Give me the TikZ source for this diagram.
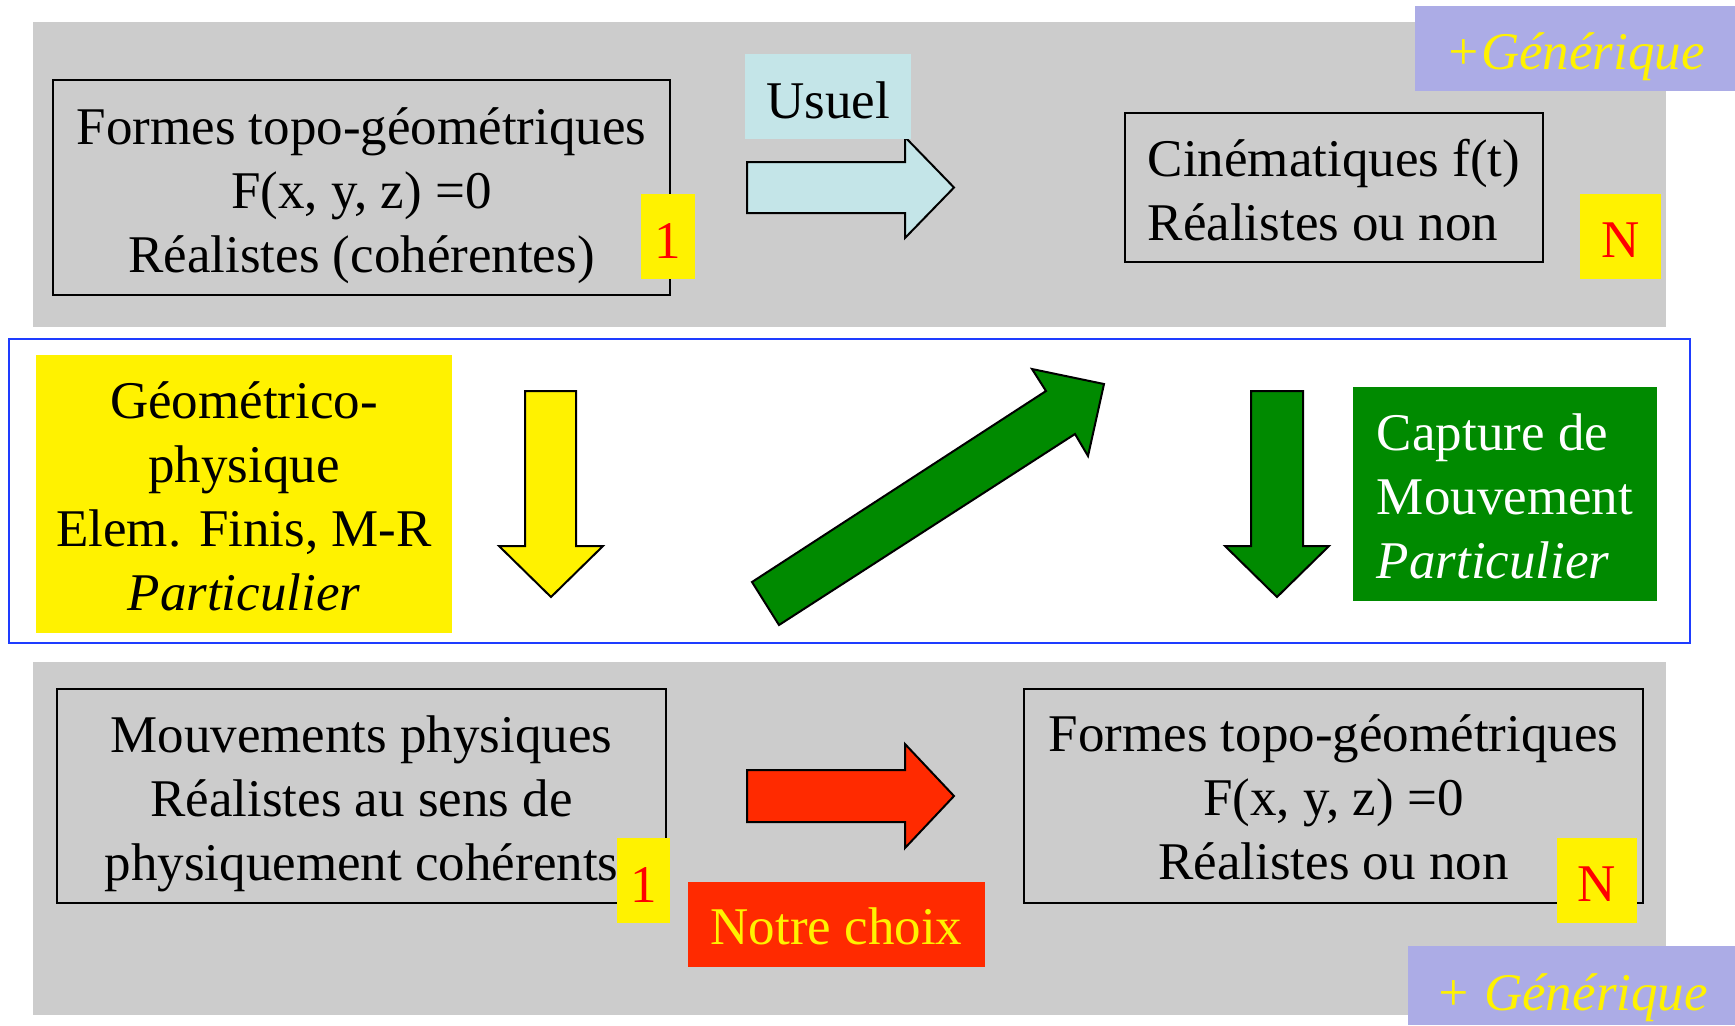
\documentclass[tikz,border=0pt]{standalone}
\usepackage{fontspec}
\setmainfont{Liberation Serif}
\definecolor{panelgray}{RGB}{204,204,204}
\definecolor{usuelcyan}{RGB}{196,229,232}
\definecolor{genlilac}{RGB}{172,172,230}
\definecolor{choixred}{RGB}{255,42,0}
\definecolor{capgreen}{RGB}{0,138,0}
\definecolor{frameblue}{RGB}{30,60,255}
\usetikzlibrary{positioning}
\tikzset{
  big/.style={font=\fontsize{26.5}{32}\selectfont},
  framebox/.style={draw=black, line width=1pt, inner sep=0pt},
  badge/.style={fill=yellow, inner sep=0pt, minimum height=42.5pt},
  flat/.style={inner sep=0pt},
  boxtext/.style={big, inner sep=0pt},
  blockarrow/.style={draw=black, line width=1pt, line join=miter},
}

\begin{document}
\begin{tikzpicture}[x=0.5pt,y=-0.5pt]
  \useasboundingbox (0,0) rectangle (1735,1025);

  \fill [panelgray] (33,22) rectangle (1666,327);
  \fill [panelgray] (33,662) rectangle (1666,1015);
  \draw [frameblue, line width=1pt] (9,339) rectangle (1690,643);

  % arrows
  \draw [blockarrow, fill=usuelcyan] (747,162) -- (905,162) -- (905,137) -- (954,187.5) -- (905,238) -- (905,213) -- (747,213) -- cycle;
  \draw [blockarrow, fill=yellow] (525,391) -- (576,391) -- (576,546) -- (603,546) -- (551,597) -- (499,546) -- (525,546) -- cycle;
  \draw [blockarrow, fill=capgreen] (752,582) -- (1046,391) -- (1032,369) -- (1104,384) -- (1088,456) -- (1075,434) -- (779,625) -- cycle;
  \draw [blockarrow, fill=capgreen] (1251,391) -- (1303,391) -- (1303,546) -- (1329,546) -- (1277,597) -- (1225,546) -- (1251,546) -- cycle;
  \draw [blockarrow, fill=choixred] (747,770) -- (905,770) -- (905,744) -- (954,796) -- (905,848) -- (905,822) -- (747,822) -- cycle;

  % top row
  \node [framebox, minimum width=308.5pt, minimum height=107.5pt] (formesA) at (361.5,187.5) {};
  \node [boxtext, align=center] (formesAtxt) at ([yshift=-3.9pt]formesA.center)
    {Formes topo-géométriques\\F(x, y, z) =0\\Réalistes (cohérentes)};
  \node [badge, minimum width=27pt] (unA) at (668,236.5) {};
  \node [boxtext, text=red] at ([yshift=-2pt]unA.center) {1};
  \node [flat, fill=usuelcyan, minimum width=83pt, minimum height=42.5pt] (usuel) at (828,96.5) {};
  \node [boxtext] at ([yshift=-1.7pt]usuel.center) {Usuel};
  \node [framebox, minimum width=209pt, minimum height=74.5pt] (cinema) at (1334,187.5) {};
  \node [boxtext, align=left] (cinematxt) at ([yshift=-1.4pt]cinema.center)
    {Cinématiques f(t)\\Réalistes ou non};
  \node [badge, minimum width=40.5pt] (enA) at (1620.5,236.5) {};
  \node [boxtext, text=red] at ([yshift=-2pt]enA.center) {N};
  \node [flat, fill=genlilac, minimum width=160pt, minimum height=42.5pt] (genA) at (1575,48.5) {};
  \node [boxtext, text=yellow] at ([yshift=-3.9pt]genA.center) {\itshape +Générique};

  % middle row
  \node [flat, fill=yellow, minimum width=208pt, minimum height=139pt] (geophys) at (244,494) {};
  \node [boxtext, align=center] (geophystxt) at ([yshift=-1.4pt]geophys.center)
    {Géométrico-\\physique\\Elem. Finis, M-R\\\itshape Particulier};
  \node [flat, fill=capgreen, minimum width=152pt, minimum height=107pt] (capture) at (1505,494) {};
  \node [boxtext, text=white, align=left] (capturetxt) at ([yshift=-1.1pt]capture.center)
    {Capture de\\Mouvement\\\itshape Particulier};

  % bottom row
  \node [framebox, minimum width=304.5pt, minimum height=107pt] (mouvts) at (361.5,796) {};
  \node [boxtext, align=center] (mouvtstxt) at ([yshift=-3.9pt]mouvts.center)
    {Mouvements physiques\\Réalistes au sens de\\physiquement cohérents};
  \node [badge, minimum width=26.5pt] (unB) at (643.5,880.5) {};
  \node [boxtext, text=red] at ([yshift=-2pt]unB.center) {1};
  \node [flat, fill=choixred, minimum width=148.5pt, minimum height=42.5pt] (choix) at (836.5,924.5) {};
  \node [boxtext, text=yellow] at ([yshift=-1.1pt]choix.center) {Notre choix};
  \node [framebox, minimum width=309.5pt, minimum height=107pt] (formesB) at (1333.5,796) {};
  \node [boxtext, align=center] (formesBtxt) at ([yshift=-0.5pt]formesB.center)
    {Formes topo-géométriques\\F(x, y, z) =0\\Réalistes ou non};
  \node [badge, minimum width=40pt] (enB) at (1597,880.5) {};
  \node [boxtext, text=red] at ([yshift=-2pt]enB.center) {N};
  \node [flat, fill=genlilac, minimum width=163.5pt, minimum height=39.5pt] (genB) at (1571.5,985.5) {};
  \node [boxtext, text=yellow] at ([yshift=-6pt]genB.center) {\itshape + Générique};
\end{tikzpicture}
\end{document}
